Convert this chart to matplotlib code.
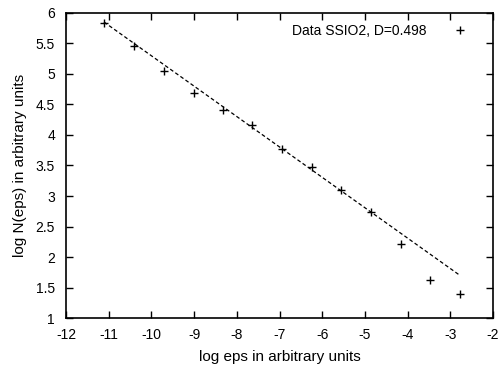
import matplotlib
matplotlib.use("Agg")
import matplotlib.pyplot as plt
import numpy as np

plt.rcParams["font.family"] = ["Liberation Sans", "DejaVu Sans"]
plt.rcParams["axes.unicode_minus"] = False

# data
log_eps = [-11.11, -10.41, -9.70, -9.00, -8.32, -7.64, -6.94, -6.24, -5.56, -4.86, -4.15, -3.48, -2.77]
log_n = [5.84, 5.45, 5.05, 4.69, 4.41, 4.16, 3.77, 3.48, 3.10, 2.73, 2.22, 1.63, 1.40]

# fitted line
fit_slope = -0.498
fit_intercept = 0.318
fit_range = [-11.11, -2.77]

x_ticks = list(range(-12, -1))
y_ticks = [1, 1.5, 2, 2.5, 3, 3.5, 4, 4.5, 5, 5.5, 6]

fig = plt.figure(figsize=(5.0, 3.69), dpi=100)
ax = fig.add_axes([0.132, 0.138, 0.854, 0.827])

fx = np.array(fit_range)
ax.plot(fx, fit_slope * fx + fit_intercept, color="black", linestyle=(0, (3, 2)), linewidth=0.9)
ax.plot(log_eps, log_n, linestyle="none", marker="+", color="black",
        markersize=5.5, markeredgewidth=1.0, label="Data SSIO2, D=0.498")

ax.set_xlim(-12, -2)
ax.set_ylim(1, 6)
ax.set_xticks(x_ticks)
ax.set_xticklabels([str(v) for v in x_ticks])
ax.set_yticks(y_ticks)
ax.set_yticklabels([f"{v:g}" for v in y_ticks])
ax.tick_params(direction="in", top=True, right=True, length=5, width=1, labelsize=10)
ax.tick_params(axis="x", pad=7)
ax.tick_params(axis="y", pad=8)
for s in ax.spines.values():
    s.set_linewidth(1.2)

ax.set_xlabel("log eps in arbitrary units", fontsize=11, labelpad=6)
ax.set_ylabel("log N(eps) in arbitrary units", fontsize=11, labelpad=6)

ax.legend(loc="upper right", frameon=False, markerfirst=False, fontsize=10,
          handlelength=3.2, borderaxespad=0.4)

fig.savefig("out.png", dpi=100)
